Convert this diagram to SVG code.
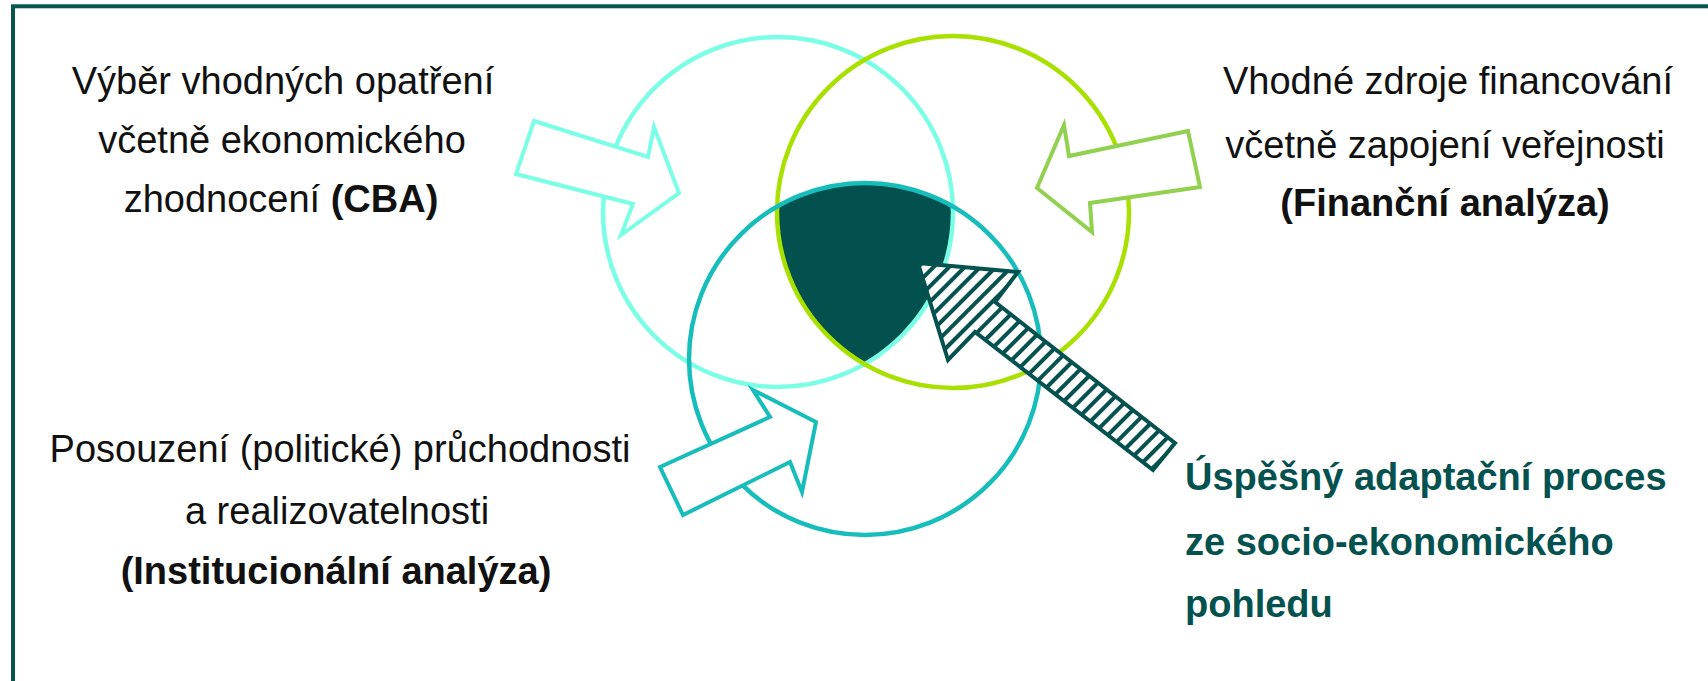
<svg xmlns="http://www.w3.org/2000/svg" width="1708" height="681" viewBox="0 0 1708 681">
<style>
.t{font-family:"Liberation Sans",Arial,sans-serif;font-size:38px;fill:#111;text-anchor:middle}
.b{font-weight:bold}
.g{font-family:"Liberation Sans",Arial,sans-serif;font-size:38px;font-weight:bold;fill:#04524F}
.ring{fill:none;stroke-width:4.5}
.blk{fill:#fff;stroke-width:4;stroke-linejoin:miter}
</style>
<defs>
<clipPath id="cA"><circle cx="778" cy="212" r="175"/></clipPath>
<clipPath id="cB"><circle cx="953" cy="212" r="176"/></clipPath>
<pattern id="hatch" width="11" height="11" patternUnits="userSpaceOnUse" patternTransform="rotate(45)">
<rect width="11" height="11" fill="#fff"/><rect width="4" height="11" fill="#04524F"/>
</pattern>
</defs>
<rect width="1708" height="681" fill="#fff"/>
<rect x="13" y="6.3" width="1760" height="720" fill="none" stroke="#07554F" stroke-width="4"/>

<g id="core">
<g clip-path="url(#cA)"><g clip-path="url(#cB)"><circle cx="865" cy="359" r="176" fill="#02514E"/></g></g>
</g>
<g id="circle-cba"><circle class="ring" cx="778" cy="212" r="175" stroke="#7AFFE6"/></g>
<g id="circle-fin"><circle class="ring" cx="953" cy="212" r="176" stroke="#A8E000"/></g>
<g id="circle-inst"><circle class="ring" cx="865" cy="359" r="176" stroke="#17BDBA"/></g>

<g id="label-cba">
<text class="t" x="283" y="94">Výběr vhodných opatření</text>
<text class="t" x="282" y="153">včetně ekonomického</text>
<text class="t" x="281" y="212">zhodnocení <tspan class="b">(CBA)</tspan></text>
</g>
<g id="label-fin">
<text class="t" x="1448" y="94">Vhodné zdroje financování</text>
<text class="t" x="1445" y="158">včetně zapojení veřejnosti</text>
<text class="t b" x="1445" y="216">(Finanční analýza)</text>
</g>
<g id="label-inst">
<text class="t" x="340" y="462">Posouzení (politické) průchodnosti</text>
<text class="t" x="337" y="524">a realizovatelnosti</text>
<text class="t b" x="336" y="584">(Institucionální analýza)</text>
</g>
<g id="label-result">
<text class="g" x="1185" y="490">Úspěšný adaptační proces</text>
<text class="g" x="1185" y="555">ze socio-ekonomického</text>
<text class="g" x="1185" y="617">pohledu</text>
</g>

<g id="connectors">
<polygon class="blk" stroke="#7AFFE6" points="534,121 648,157 654,127 679,193 621,235 633,204 516,174"/>
<polygon class="blk" stroke="#92D050" points="1188,131 1069,156 1064,125 1037,188 1092,232 1090,203 1200,187"/>
<polygon class="blk" stroke="#17BDBA" points="660,467 770,417 753,390 816,422 802,492 790,462 683,515"/>
<polygon fill="url(#hatch)" stroke="#04524F" stroke-width="4" points="918,263 1018,272 995,302 1175,443 1153,470 975,332 948,360"/>
</g>
</svg>
